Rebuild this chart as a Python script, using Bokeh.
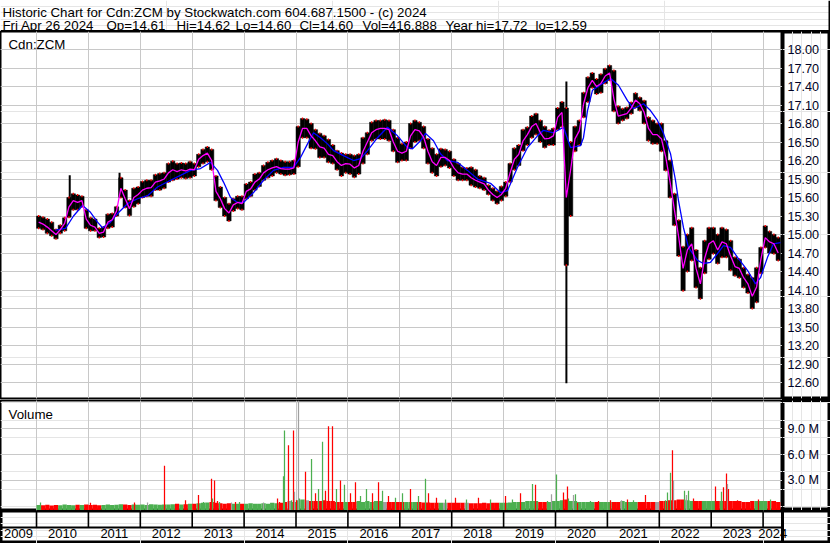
import numpy as np
from bokeh.plotting import figure
from bokeh.models import Range1d, FixedTicker, Grid, Span, ColumnDataSource
from bokeh.layouts import column, row
from bokeh.core.properties import value
from bokeh.embed import file_html
from bokeh.resources import INLINE

# ---------------- data ----------------
TITLE = "Historic Chart for Cdn:ZCM by Stockwatch.com 604.687.1500 - (c) 2024"
SUBTITLE_PARTS = ["Fri Apr 26 2024", "Op=14.61", "Hi=14.62", "Lo=14.60", "Cl=14.60",
                  "Vol=416,888", "Year hi=17.72", "lo=12.59"]
SYMBOL = "Cdn:ZCM"
VOLUME_LABEL = "Volume"

FIRST_YEAR = 2010  # monthly bars start Jan 2010

# monthly low / high / close(short average), Jan 2010 .. Apr 2024
low = [15.10, 15.08, 15.02, 14.98, 14.93, 15.02, 15.06, 15.28, 15.40, 15.40, 15.45, 15.10,
       15.06, 15.06, 14.95, 14.96, 15.10, 15.12, 15.30, 15.60, 15.44, 15.31, 15.45, 15.50,
       15.60, 15.62, 15.62, 15.72, 15.72, 15.75, 15.85, 15.88, 15.90, 15.92, 15.91, 15.92,
       15.95, 16.10, 16.15, 16.18, 16.05, 15.55, 15.44, 15.30, 15.22, 15.38, 15.42, 15.40,
       15.58, 15.62, 15.72, 15.78, 15.88, 15.92, 15.95, 16.00, 15.98, 15.96, 15.97, 15.98,
       16.10, 16.57, 16.57, 16.40, 16.39, 16.25, 16.25, 16.17, 16.15, 16.05, 15.95, 16.00,
       15.98, 15.93, 15.98, 16.15, 16.30, 16.52, 16.55, 16.55, 16.55, 16.52, 16.35, 16.17,
       16.20, 16.20, 16.40, 16.50, 16.52, 16.40, 16.15, 16.00, 15.95, 16.10, 16.12, 16.08,
       15.95, 15.88, 15.88, 15.88, 15.80, 15.77, 15.75, 15.72, 15.65, 15.55, 15.50, 15.55,
       15.62, 15.85, 16.05, 16.12, 16.36, 16.45, 16.57, 16.62, 16.50, 16.41, 16.45, 16.45,
       16.70, 16.75, 14.50, 15.30, 16.35, 16.45, 16.90, 17.15, 17.38, 17.28, 17.30, 17.45,
       17.50, 17.00, 16.80, 16.85, 16.88, 16.96, 17.06, 17.01, 16.80, 16.52, 16.47, 16.47,
       16.35, 16.04, 15.60, 15.15, 14.65, 14.09, 14.40, 14.58, 14.14, 13.96, 14.37, 14.60,
       14.69, 14.53, 14.63, 14.63, 14.42, 14.33, 14.30, 14.14, 14.05, 13.80, 13.90, 14.37,
       14.79, 14.70, 14.69, 14.58]
high = [15.30, 15.28, 15.25, 15.20, 15.08, 15.15, 15.27, 15.60, 15.66, 15.64, 15.62, 15.40,
        15.27, 15.25, 15.10, 15.12, 15.33, 15.34, 15.45, 15.92, 15.72, 15.55, 15.75, 15.77,
        15.86, 15.88, 15.88, 15.97, 15.99, 16.00, 16.15, 16.19, 16.15, 16.16, 16.15, 16.18,
        16.15, 16.30, 16.38, 16.42, 16.38, 15.95, 15.77, 15.60, 15.50, 15.58, 15.62, 15.62,
        15.82, 15.85, 15.98, 16.00, 16.12, 16.17, 16.20, 16.23, 16.20, 16.18, 16.18, 16.20,
        16.75, 16.88, 16.87, 16.80, 16.70, 16.64, 16.60, 16.54, 16.45, 16.36, 16.32, 16.30,
        16.30, 16.28, 16.30, 16.57, 16.65, 16.82, 16.85, 16.85, 16.86, 16.85, 16.70, 16.57,
        16.47, 16.50, 16.80, 16.85, 16.82, 16.75, 16.55, 16.40, 16.30, 16.39, 16.38, 16.35,
        16.22, 16.15, 16.09, 16.08, 16.09, 16.05, 15.95, 15.92, 15.80, 15.75, 15.70, 15.78,
        15.85, 16.15, 16.40, 16.45, 16.70, 16.74, 16.92, 16.96, 16.85, 16.75, 16.69, 16.72,
        17.05, 17.15, 17.05, 16.50, 16.75, 16.85, 17.30, 17.55, 17.62, 17.52, 17.60, 17.69,
        17.74, 17.66, 17.08, 17.04, 17.06, 17.14, 17.29, 17.22, 17.17, 16.90, 16.85, 16.80,
        16.80, 16.52, 16.20, 15.66, 15.23, 14.80, 15.00, 15.11, 14.75, 14.46, 14.90, 15.11,
        15.11, 15.00, 15.11, 15.08, 14.90, 14.63, 14.60, 14.46, 14.35, 14.30, 14.46, 14.79,
        15.14, 15.05, 15.00, 14.95]
close = [15.20, 15.17, 15.12, 15.06, 15.00, 15.08, 15.18, 15.45, 15.55, 15.52, 15.55, 15.25,
         15.15, 15.12, 15.02, 15.04, 15.20, 15.24, 15.38, 15.75, 15.58, 15.42, 15.60, 15.65,
         15.72, 15.75, 15.76, 15.85, 15.87, 15.90, 16.00, 16.05, 16.02, 16.05, 16.03, 16.06,
         16.05, 16.22, 16.28, 16.32, 16.20, 15.70, 15.58, 15.42, 15.35, 15.48, 15.52, 15.50,
         15.70, 15.74, 15.85, 15.90, 16.00, 16.05, 16.08, 16.10, 16.07, 16.06, 16.06, 16.08,
         16.50, 16.72, 16.72, 16.60, 16.52, 16.42, 16.40, 16.30, 16.28, 16.18, 16.12, 16.15,
         16.14, 16.08, 16.12, 16.35, 16.50, 16.65, 16.70, 16.72, 16.72, 16.70, 16.50, 16.35,
         16.32, 16.35, 16.60, 16.70, 16.68, 16.58, 16.35, 16.18, 16.12, 16.25, 16.25, 16.20,
         16.08, 16.00, 15.98, 15.98, 15.92, 15.88, 15.85, 15.82, 15.72, 15.65, 15.60, 15.65,
         15.75, 16.00, 16.22, 16.30, 16.52, 16.62, 16.75, 16.80, 16.65, 16.55, 16.56, 16.60,
         16.90, 16.98, 15.60, 16.05, 16.55, 16.68, 17.12, 17.38, 17.50, 17.40, 17.45, 17.57,
         17.62, 17.20, 16.92, 16.94, 16.96, 17.05, 17.18, 17.12, 16.98, 16.72, 16.62, 16.62,
         16.55, 16.25, 15.85, 15.40, 14.95, 14.45, 14.75, 14.85, 14.45, 14.20, 14.62, 14.85,
         14.90, 14.75, 14.88, 14.85, 14.65, 14.48, 14.45, 14.30, 14.20, 14.00, 14.15, 14.60,
         14.95, 14.88, 14.85, 14.70]

# single-day extremes that stand out of the monthly band
spike_t = [2010.64, 2011.60, 2020.21]
spike_lo = [15.50, 15.60, 12.59]
spike_hi = [15.96, 16.00, 17.48]

# long moving average (blue), read at these dates
blue_t = [2010.366, 2010.559, 2010.713, 2010.886, 2011.040, 2011.175, 2011.272, 2011.426,
          2011.561, 2011.753, 2011.946, 2012.139, 2012.331, 2012.582, 2012.775, 2012.967,
          2013.160, 2013.353, 2013.487, 2013.603, 2013.738, 2013.873, 2013.988, 2014.181,
          2014.374, 2014.566, 2014.759, 2014.952, 2015.087, 2015.222, 2015.337, 2015.472,
          2015.607, 2015.723, 2015.915, 2016.108, 2016.243, 2016.378, 2016.570, 2016.763,
          2016.956, 2017.148, 2017.245, 2017.399, 2017.495, 2017.649, 2017.784, 2017.919,
          2018.112, 2018.304, 2018.497, 2018.748, 2018.940, 2019.075, 2019.268, 2019.461,
          2019.653, 2019.769, 2019.961, 2020.154, 2020.289, 2020.482, 2020.539, 2020.617,
          2020.713, 2020.906, 2021.060, 2021.214, 2021.387, 2021.503, 2021.696, 2021.830,
          2021.965, 2022.081, 2022.216, 2022.312, 2022.370, 2022.466, 2022.563, 2022.736,
          2022.852, 2022.987, 2023.121, 2023.237, 2023.372, 2023.507, 2023.699, 2023.854,
          2023.950, 2024.085, 2024.200, 2024.335]
blue_v = [15.07, 15.10, 15.30, 15.47, 15.36, 15.20, 15.11, 15.20,
          15.34, 15.50, 15.58, 15.63, 15.77, 15.88, 15.96, 16.04,
          16.07, 16.17, 16.04, 15.85, 15.60, 15.52, 15.52, 15.68,
          15.88, 16.04, 16.09, 16.09, 16.25, 16.47, 16.65, 16.57,
          16.47, 16.36, 16.28, 16.20, 16.23, 16.36, 16.57, 16.74,
          16.60, 16.41, 16.39, 16.52, 16.64, 16.52, 16.31, 16.20,
          16.17, 16.04, 15.90, 15.83, 15.68, 15.71, 16.09, 16.41,
          16.60, 16.69, 16.65, 16.74, 16.41, 16.44, 16.57, 17.01,
          17.34, 17.45, 17.53, 17.42, 17.17, 17.04, 17.12, 17.01,
          16.85, 16.64, 16.31, 15.88, 15.55, 15.11, 14.79, 14.58,
          14.53, 14.55, 14.69, 14.82, 14.79, 14.63, 14.42, 14.20,
          14.30, 14.63, 14.85, 14.87]

# typical monthly volume (millions)
vol_base = [0.15, 0.12, 0.18, 0.10, 0.15, 0.12, 0.20, 0.15, 0.12, 0.18, 0.15, 0.20,
            0.15, 0.18, 0.12, 0.15, 0.20, 0.15, 0.18, 0.25, 0.20, 0.15, 0.20, 0.18,
            0.20, 0.15, 0.25, 0.20, 0.18, 0.22, 0.20, 0.25, 0.30, 0.20, 0.25, 0.30,
            0.30, 0.35, 0.40, 0.45, 0.50, 0.40, 0.35, 0.30, 0.35, 0.30, 0.30, 0.30,
            0.30, 0.35, 0.30, 0.30, 0.35, 0.30, 0.40, 0.35, 0.40, 0.50, 0.60, 0.50,
            0.70, 0.80, 0.70, 0.60, 0.60, 0.60, 0.70, 0.60, 0.60, 0.50, 0.50, 0.50,
            0.50, 0.50, 0.60, 0.50, 0.60, 0.50, 0.60, 0.60, 0.50, 0.50, 0.50, 0.50,
            0.50, 0.50, 0.50, 0.50, 0.50, 0.45, 0.45, 0.40, 0.40, 0.40, 0.40, 0.40,
            0.40, 0.40, 0.40, 0.40, 0.35, 0.35, 0.35, 0.40, 0.35, 0.40, 0.40, 0.40,
            0.40, 0.45, 0.50, 0.50, 0.50, 0.60, 0.60, 0.60, 0.50, 0.50, 0.50, 0.60,
            0.60, 0.70, 0.80, 0.60, 0.60, 0.50, 0.50, 0.50, 0.50, 0.50, 0.50, 0.50,
            0.50, 0.50, 0.50, 0.60, 0.50, 0.50, 0.50, 0.50, 0.50, 0.50, 0.50, 0.50,
            0.60, 0.60, 0.70, 0.70, 0.80, 0.80, 0.70, 0.60, 0.60, 0.60, 0.60, 0.60,
            0.60, 0.60, 0.60, 0.60, 0.60, 0.60, 0.60, 0.50, 0.50, 0.60, 0.60, 0.60,
            0.60, 0.60, 0.60, 0.50]

# daily volume spikes (millions): date, size, up/down/flat
vol_spike_t = [2010.077, 2011.040, 2011.888, 2012.139, 2012.466, 2012.871, 2013.121, 2013.218,
               2013.372, 2013.391, 2013.430, 2013.487, 2013.526, 2013.757, 2013.834, 2013.911,
               2014.374, 2014.644, 2014.682, 2014.759, 2014.778, 2014.855, 2014.913, 2014.952,
               2014.971, 2015.010, 2015.048, 2015.067,
               2015.183, 2015.299, 2015.376, 2015.434, 2015.511, 2015.568, 2015.626, 2015.703,
               2015.780, 2015.857, 2015.934, 2016.050, 2016.146, 2016.243, 2016.358, 2016.474,
               2016.590, 2016.667, 2016.782, 2016.917, 2017.052, 2017.206, 2017.360, 2017.495,
               2017.553, 2017.707, 2017.881, 2018.073, 2018.285, 2018.516, 2018.748, 2019.037,
               2019.171, 2019.326,
               2019.557, 2019.615, 2019.769, 2019.846, 2019.923, 2020.019, 2020.154, 2020.231,
               2020.250, 2020.347, 2020.385, 2020.424, 2020.674, 2020.732, 2020.829, 2021.060,
               2021.272, 2021.387, 2021.503, 2021.734, 2021.908, 2022.119, 2022.158, 2022.216,
               2022.254, 2022.274, 2022.486, 2022.524, 2022.563, 2022.659, 2022.832, 2023.083,
               2023.198, 2023.237, 2023.295, 2023.314, 2023.333, 2023.507, 2023.911, 2024.143,
               2024.297]
vol_spike_v = [0.45, 0.40, 0.45, 0.45, 4.70, 0.70, 1.30, 0.50,
               3.20, 0.90, 3.00, 0.60, 0.50, 0.45, 0.50, 0.50,
               0.45, 0.90, 0.50, 3.50, 8.80, 7.10, 0.70, 8.80,
               1.70, 0.70, 12.50, 0.90,
               4.00, 5.50, 1.50, 2.00, 7.50, 1.80, 9.30, 9.30,
               2.00, 3.00, 2.50, 1.50, 2.80, 1.20, 2.00, 1.50,
               2.80, 1.80, 1.20, 1.00, 1.50, 2.00, 1.20, 3.20,
               1.50, 1.00, 0.80, 1.00, 0.80, 1.00, 0.80, 1.20,
               0.80, 1.50,
               2.60, 2.50, 0.50, 0.60, 1.40, 3.70, 1.60, 2.30,
               0.90, 1.30, 1.40, 0.40, 0.60, 0.50, 0.60, 0.70,
               0.70, 0.80, 0.70, 1.30, 0.50, 0.70, 1.60, 3.90,
               6.50, 3.00, 1.80, 1.30, 1.80, 0.90, 0.60, 2.30,
               1.70, 2.20, 3.80, 2.60, 2.00, 0.70, 0.80, 0.80,
               0.50]
vol_spike_kind = ["up", "dn", "dn", "fl", "dn", "dn", "dn", "up",
                  "dn", "up", "dn", "dn", "up", "fl", "dn", "up",
                  "fl", "dn", "dn", "up", "up", "dn", "up", "dn",
                  "fl", "dn", "fl", "up",
                  "dn", "up", "dn", "up", "up", "dn", "dn", "dn",
                  "up", "dn", "up", "dn", "dn", "up", "up", "dn",
                  "dn", "up", "dn", "up", "up", "dn", "up", "up",
                  "dn", "dn", "up", "dn", "up", "dn", "up", "dn",
                  "up", "dn",
                  "up", "dn", "dn", "up", "fl", "up", "dn", "dn",
                  "up", "fl", "up", "dn", "up", "up", "dn", "dn",
                  "fl", "dn", "up", "dn", "dn", "up", "up", "up",
                  "dn", "fl", "up", "fl", "up", "dn", "up", "dn",
                  "up", "dn", "dn", "fl", "dn", "dn", "dn", "up",
                  "dn"]

price_ticks = [12.60, 12.90, 13.20, 13.50, 13.80, 14.10, 14.40, 14.70, 15.00, 15.30,
               15.60, 15.90, 16.20, 16.50, 16.80, 17.10, 17.40, 17.70, 18.00]
price_tick_labels = ["12.60", "12.90", "13.20", "13.50", "13.80", "14.10", "14.40", "14.70",
                     "15.00", "15.30", "15.60", "15.90", "16.20", "16.50", "16.80", "17.10",
                     "17.40", "17.70", "18.00"]
vol_ticks = [3.0, 6.0, 9.0]
vol_tick_labels = ["3.0 M", "6.0 M", "9.0 M"]
years = list(range(2009, 2025))
year_labels = [str(y) for y in years]

# ---------------- styling / layout ----------------
FONT = value("Liberation Sans")
TXT = "13.3px"
NUM = "12.6px"
GRID = "#C8C8C8"
COLORS = {"up": "#4CAF50", "dn": "#FF0000", "fl": "#A0A0A0"}
X0, X1 = 2009.306, 2024.374
W_MAIN, W_RIGHT = 782, 48
W_ALL = W_MAIN + W_RIGHT
H_HEAD, H_PRICE, H_VOL, H_BOT = 31, 369, 110, 33
SUB_OFFSETS = [2, 106, 176, 235, 299, 362, 445, 535]


def base_fig(w, h, xr, yr, **kw):
    f = figure(width=w, height=h, x_range=xr, y_range=yr, title=None,
               x_axis_location=None, y_axis_location=None, toolbar_location=None,
               output_backend="svg", min_border=0, **kw)
    f.background_fill_color = "white"
    f.border_fill_color = "white"
    f.outline_line_color = "black"
    f.outline_line_width = 2
    return f


xr = Range1d(X0, X1)
year_bounds = years[1:]

# header
head = base_fig(W_ALL, H_HEAD, Range1d(0, 1), Range1d(0, 1))
head.outline_line_color = None
head.text(x=[0], y=[1], text=[TITLE], x_offset=2, y_offset=11.5,
          text_baseline="alphabetic", text_font=FONT, text_font_size=TXT, text_color="black")
head.text(x=[0] * len(SUBTITLE_PARTS), y=[1] * len(SUBTITLE_PARTS), text=SUBTITLE_PARTS,
          x_offset=SUB_OFFSETS, y_offset=24.5,
          text_baseline="alphabetic", text_font=FONT, text_font_size=TXT, text_color="black")
head.add_layout(Span(location=0, dimension="width", line_color="black", line_width=3))
head.add_layout(Span(location=1, dimension="height", line_color="black", line_width=4))

# price panel
yr_price = Range1d(12.341, 18.292)
p = base_fig(W_MAIN, H_PRICE, xr, yr_price, min_border_bottom=2)
p.add_layout(Grid(dimension=0, ticker=FixedTicker(ticks=year_bounds), grid_line_color=GRID))
p.add_layout(Grid(dimension=1, ticker=FixedTicker(ticks=price_ticks), grid_line_color=GRID))
mt = FIRST_YEAR + (np.arange(len(low)) + 0.5) / 12.0
src = ColumnDataSource(dict(t=mt, low=low, high=high, close=close))
p.vbar(x="t", width=1 / 12, bottom="low", top="high", fill_color="black",
       line_color="black", line_width=0.5, source=src)
p.segment(x0=spike_t, x1=spike_t, y0=spike_lo, y1=spike_hi, line_color="black", line_width=2)
p.rect(x="t", y="high", width=0.3 / 12, height=2, height_units="screen",
       fill_color="#FF0000", line_color=None, source=src)
p.rect(x="t", y="low", width=0.3 / 12, height=2, height_units="screen",
       fill_color="#FF0000", line_color=None, source=src)
p.line(x=blue_t, y=blue_v, line_color="#0000FF", line_width=1.3)
p.line(x="t", y="close", line_color="#FF00FF", line_width=1.3, source=src)
p.text(x=[X0], y=[yr_price.end], text=[SYMBOL], x_offset=8, y_offset=13,
       text_baseline="alphabetic", text_font=FONT, text_font_size=TXT, text_color="black")

pa = base_fig(W_RIGHT, H_PRICE, Range1d(0, 1), yr_price, min_border_bottom=2)
pa.outline_line_width = 4
pa.text(x=[0] * len(price_ticks), y=price_ticks, text=price_tick_labels, x_offset=5,
        text_baseline="middle", text_font=FONT, text_font_size=NUM, text_color="#000022")

# volume panel
yr_vol = Range1d(-0.49, 12.29)
VOL_FLOOR = yr_vol.start
v = base_fig(W_MAIN, H_VOL, xr, yr_vol)
v.add_layout(Grid(dimension=0, ticker=FixedTicker(ticks=year_bounds), grid_line_color=GRID))
v.add_layout(Grid(dimension=1, ticker=FixedTicker(ticks=vol_ticks), grid_line_color=GRID))
base_kind = ["up"] + ["up" if close[i] > close[i - 1] else ("dn" if close[i] < close[i - 1] else "fl")
                      for i in range(1, len(close))]
v.vbar(x=mt, width=1 / 12, bottom=VOL_FLOOR, top=vol_base,
       fill_color=[COLORS[k] for k in base_kind], line_color=None)
v.vbar(x=vol_spike_t, width=0.024, bottom=VOL_FLOOR, top=vol_spike_v,
       fill_color=[COLORS[k] for k in vol_spike_kind], line_color=None)
v.text(x=[X0], y=[yr_vol.end], text=[VOLUME_LABEL], x_offset=8, y_offset=14,
       text_baseline="alphabetic", text_font=FONT, text_font_size=TXT, text_color="black")

va = base_fig(W_RIGHT, H_VOL, Range1d(0, 1), yr_vol)
va.outline_line_width = 4
va.text(x=[0] * len(vol_ticks), y=vol_ticks, text=vol_tick_labels, x_offset=5,
        text_baseline="middle", text_font=FONT, text_font_size=NUM, text_color="#000022")

# year strip (full width; its x range continues under the right-hand column)
DIV = 0.485
xr_b = Range1d(X0, X0 + (X1 - X0) * W_ALL / W_MAIN)
b = base_fig(W_ALL, H_BOT, xr_b, Range1d(0, 1))
b.outline_line_width = 4
b.segment(x0=[X0], x1=[X1], y0=[DIV], y1=[DIV], line_color="black", line_width=2)
b.segment(x0=year_bounds, x1=year_bounds, y0=[DIV] * len(year_bounds), y1=[1] * len(year_bounds),
          line_color="black", line_width=1.6)
b.segment(x0=[X1], x1=[X1], y0=[0], y1=[1], line_color="black", line_width=3)
label_x = [(X0 + years[1]) / 2] + [y + 0.5 for y in years[1:-1]] + [(years[-1] + X1) / 2]
b.text(x=label_x, y=[0.30] * len(years), text=year_labels, text_align="center",
       text_baseline="middle", text_font=FONT, text_font_size="13px", text_color="black")

layout = column(head, row(p, pa), row(v, va), b)
open("out.html", "w").write(file_html(layout, INLINE))
